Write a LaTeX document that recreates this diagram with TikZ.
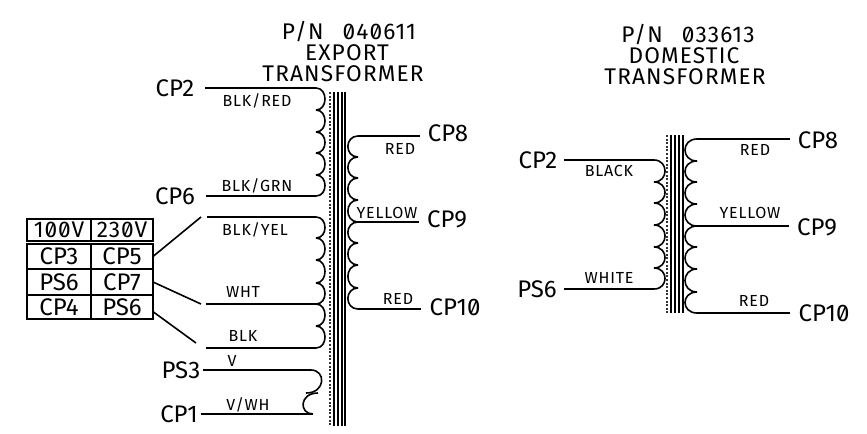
\documentclass[tikz,border=0pt]{standalone}
\usepackage{fontspec}
\setmainfont[Numbers=SlashedZero]{Fira Sans}
\usetikzlibrary{positioning}

% one bump per pair of y values: cusp x, control offset, list
\newcommand{\coilbumps}[3]{
  \foreach \ya/\yb in {#3}
    \draw[wire] (#1,\ya) .. controls (#1+#2,\ya) and (#1+#2,\yb) .. (#1,\yb);
}

\begin{document}
\begin{tikzpicture}[
  x=0.75pt, y=-0.75pt,
  wire/.style={line width=1.2pt, black},
  corebar/.style={line width=1pt, black},
  coredots/.style={line width=1.2pt, black!80, dash pattern=on 1.5pt off 1.2pt},
  terminal/.style={font=\fontsize{18}{18}\selectfont, inner sep=0pt},
  wirelabel/.style={font=\fontsize{12}{12}\selectfont\addfontfeature{LetterSpace=5}, inner sep=0pt},
  titleline/.style={font=\fontsize{17}{17}\selectfont\addfontfeature{LetterSpace=5}, inner sep=0pt},
  headcell/.style={font=\fontsize{17}{17}\selectfont\addfontfeature{LetterSpace=4}},
  tablecell/.style={draw=black, line width=1pt, inner sep=0pt, outer sep=0pt,
    font=\fontsize{18}{18}\selectfont, minimum height=#1},
  leftcol/.style={tablecell=#1, minimum width=48pt},
  rightcol/.style={tablecell=#1, minimum width=46.5pt},
]
  \useasboundingbox (0,0) rectangle (867,433);

  % Export transformer title
  \node[titleline] (titlea) at (349,32) {P/N\hspace{9pt} 040611};
  \node[titleline] (titleb) at (347,53) {EXPORT};
  \node[titleline] (titlec) at (343,74) {TRANSFORMER};

  % Domestic transformer title
  \node[titleline] (titled) at (688,35) {P/N\hspace{9pt} 033613};
  \node[titleline] (titlee) at (684,56) {DOMESTIC};
  \node[titleline] (titlef) at (685,77) {TRANSFORMER};

  % Voltage table
  \node[leftcol=16.5pt, headcell] (volta) at (59,230) {100V};
  \node[rightcol=16.5pt, headcell] (voltb) at (122,230) {230V};
  \node[leftcol=18.75pt] (rowaa) at (59,256.5) {CP3};
  \node[rightcol=18.75pt] (rowab) at (122,256.5) {CP5};
  \node[leftcol=19.5pt] (rowba) at (59,282) {PS6};
  \node[rightcol=19.5pt] (rowbb) at (122,282) {CP7};
  \node[leftcol=18pt] (rowca) at (59,307) {CP4};
  \node[rightcol=18pt] (rowcb) at (122,307) {PS6};

  % Export core
  \draw[coredots] (330,92) -- (330,426);
  \foreach \x in {334,338,342,345}
    \draw[corebar] (\x,92) -- (\x,426);

  % Export primary terminals
  \node[terminal] (ecptwo) at (175,88) {CP2};
  \node[terminal] (ecpsix) at (175,196) {CP6};
  \node[terminal] (epsthree) at (181,370) {PS3};
  \node[terminal] (ecpone) at (179,414) {CP1};

  % Export primary coil ends
  \coordinate (ea) at (316,88);
  \coordinate (eb) at (316,196);
  \coordinate (ec) at (316,217);
  \coordinate (ed) at (316,304);
  \coordinate (ee) at (316,348);
  \coordinate (ef) at (311,370);
  \coordinate (eg) at (313,414);

  % Free ends towards the table
  \coordinate (freea) at (207,217);
  \coordinate (freeb) at (206,304);
  \coordinate (freec) at (206,348);
  \coordinate (linka) at (201,217);
  \coordinate (linkb) at (201,304);
  \coordinate (linkc) at (196,343);

  % Export primary coils
  \coilbumps{316}{12}{88/110,110/132,132/153,153/175,175/196}
  \coilbumps{316}{12}{217/238,238/260,260/283,283/304,304/326,326/348}
  \draw[wire] (ef) .. controls (326,370) and (326,393) .. (306,393);
  \draw[wire] (318,393) .. controls (299,393) and (299,414) .. (eg);

  % Export primary wires
  \draw[wire] ([xshift=8pt]ecptwo.east) -- (ea);
  \draw[wire] ([xshift=8pt]ecpsix.east) -- (eb);
  \draw[wire] (freea) -- (ec);
  \draw[wire] (freeb) -- (ed);
  \draw[wire] (freec) -- (ee);
  \draw[wire] ([xshift=2pt]epsthree.east) -- (ef);
  \draw[wire] ([xshift=2pt]ecpone.east) -- (eg);

  % Table to export leads
  \draw[wire] (rowab.east) -- (linka);
  \draw[wire] (rowbb.east) -- (linkb);
  \draw[wire] ([yshift=-3.5pt]rowcb.east) -- (linkc);

  % Export secondary
  \node[terminal] (ecpeight) at (448,133) {CP8};
  \node[terminal] (ecpnine) at (447,219) {CP9};
  \node[terminal] (ecpten) at (455,307) {CP10};
  \coordinate (esa) at (358,136);
  \coordinate (esb) at (358,222);
  \coordinate (esc) at (358,309);
  \coilbumps{358}{-13.5}{136/157,157/178,178/200,200/222,222/243,243/265,265/288,288/309}
  \draw[wire] (esa) -- ([xshift=-6pt]ecpeight.west |- esa);
  \draw[wire] (esb) -- ([xshift=-6pt]ecpnine.west |- esb);
  \draw[wire] (esc) -- ([xshift=-6pt]ecpten.west |- esc);

  % Export lead colours
  \node[wirelabel] (lbla) at (257,101) {BLK/RED};
  \node[wirelabel] (lblb) at (257,186) {BLK/GRN};
  \node[wirelabel] (lblc) at (255,230) {BLK/YEL};
  \node[wirelabel] (lbld) at (243,292) {WHT};
  \node[wirelabel] (lble) at (243,336) {BLK};
  \node[wirelabel] (lblf) at (232,361) {V};
  \node[wirelabel] (lblg) at (248,405) {V/WH};
  \node[wirelabel] (lblh) at (400,149) {RED};
  \node[wirelabel] (lbli) at (387,213) {YELLOW};
  \node[wirelabel] (lblj) at (398,299) {RED};

  % Domestic core
  \draw[coredots] (667,135) -- (667,313);
  \foreach \x in {671,675,679,683}
    \draw[corebar] (\x,135) -- (\x,313);

  % Domestic primary
  \node[terminal] (dcptwo) at (538,160) {CP2};
  \node[terminal] (dpssix) at (537,289) {PS6};
  \coordinate (da) at (654,160);
  \coordinate (db) at (654,289);
  \coilbumps{654}{14.7}{160/182,182/203,203/225,225/247,247/268,268/289}
  \draw[wire] ([xshift=5pt]dcptwo.east) -- (da);
  \draw[wire] ([xshift=5pt]dpssix.east) -- (db);

  % Domestic secondary
  \node[terminal] (dcpeight) at (818,140) {CP8};
  \node[terminal] (dcpnine) at (817,227) {CP9};
  \node[terminal] (dcpten) at (824,313) {CP10};
  \coordinate (dsa) at (697,139);
  \coordinate (dsb) at (697,226);
  \coordinate (dsc) at (697,313);
  \coilbumps{697}{-16}{139/161,161/182,182/204,204/226,226/247,247/269,269/292,292/313}
  \draw[wire] (dsa) -- ([xshift=-6pt]dcpeight.west |- dsa);
  \draw[wire] (dsb) -- ([xshift=-6pt]dcpnine.west |- dsb);
  \draw[wire] (dsc) -- ([xshift=-6pt]dcpten.west |- dsc);

  % Domestic lead colours
  \node[wirelabel] (lblk) at (609,171) {BLACK};
  \node[wirelabel] (lbll) at (609,278) {WHITE};
  \node[wirelabel] (lblm) at (755,150) {RED};
  \node[wirelabel] (lbln) at (750,213) {YELLOW};
  \node[wirelabel] (lblo) at (754,301) {RED};
\end{tikzpicture}
\end{document}
